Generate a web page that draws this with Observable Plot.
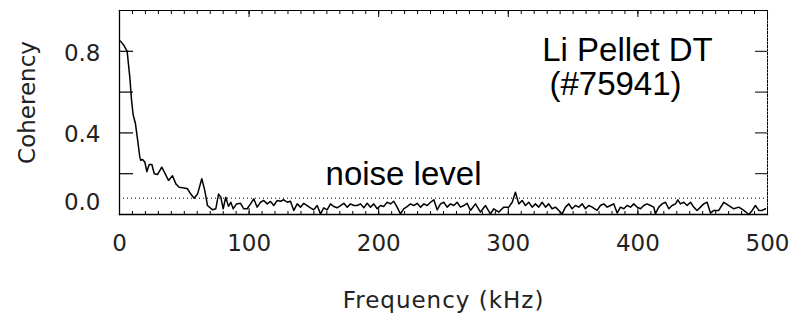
<!DOCTYPE html>
<html><head><meta charset="utf-8">
<script src="https://cdn.jsdelivr.net/npm/d3@7"></script>
<script src="https://cdn.jsdelivr.net/npm/@observablehq/plot@0.6"></script>
<style>html,body{margin:0;padding:0;background:#fff;}</style>
</head><body><div id="chart"></div>
<script>
// Frequency (kHz) of each sample
const freq = [
  0.8, 3.3, 5.9, 8.0, 9.3, 10.5, 12.3, 14.1, 15.7, 16.5, 17.8, 19.6, 21.1, 22.9, 25.0, 26.8, 29.3, 32.6, 35.2, 37.8,
  40.9, 43.5, 46.0, 49.9, 52.5, 55.0, 57.6, 60.2, 63.5, 65.8, 67.9, 71.8, 74.3, 76.4, 78.2, 80.0, 82.0, 84.1, 85.9, 87.7, 90.3,
  93.4, 95.9, 98.5, 101.1, 103.6, 106.2, 108.8, 111.3, 114.0, 116.5, 119.1, 121.7, 124.2, 126.8, 129.4, 131.9, 134.5, 137.1,
  139.7, 142.2, 144.8, 147.4, 149.9, 152.5, 155.1, 157.6, 160.2, 162.8, 165.3, 168.0, 170.5, 173.1, 175.7, 178.2, 180.8, 183.4,
  186.0, 188.5, 191.1, 193.7, 196.2, 198.8, 201.4, 203.9, 206.5, 209.1, 211.7, 214.2, 216.8, 219.3, 221.9, 224.5, 227.1,
  229.7, 232.3, 234.8, 237.4, 240.0, 242.5, 245.1, 247.7, 250.2, 252.8, 255.4, 258.0, 260.5, 263.1, 265.7, 268.2, 270.8,
  274.7, 278.5, 282.4, 286.2, 288.8, 292.7, 296.5, 300.4, 303.0, 305.5, 308.1, 310.7, 313.2, 315.8, 318.4, 320.9, 323.5,
  326.1, 328.7, 331.2, 333.8, 336.4, 339.0, 341.5, 344.1, 346.7, 349.2, 351.8, 354.4, 357.0, 359.5, 362.1, 364.7,
  368.5, 371.1, 373.7, 376.3, 378.8, 381.4, 384.0, 386.5, 389.1, 391.7, 394.3, 396.8, 399.4, 402.0, 404.5, 407.1, 409.7,
  412.3, 413.5, 416.1, 418.7, 421.3, 423.8, 426.4, 429.0, 430.8, 432.8, 435.4, 438.0, 440.6, 443.1, 445.7, 448.3, 450.8,
  453.4, 456.0, 458.6,
  462.4, 466.3, 470.2, 474.0, 477.9, 481.7, 485.6, 488.2, 490.7, 493.3, 495.9, 498.5
];
// Coherency at each frequency
const coherency = [
  0.85, 0.83, 0.80, 0.67, 0.56, 0.49, 0.445, 0.36, 0.28, 0.265, 0.27, 0.256, 0.21, 0.245, 0.245, 0.20, 0.196, 0.232, 0.20, 0.167,
  0.19, 0.15, 0.134, 0.13, 0.126, 0.10, 0.08, 0.10, 0.175, 0.118, 0.044, 0.023, 0.028, 0.10, 0.085, 0.028, 0.085, 0.04, 0.06, 0.028, 0.052,
  0.055, 0.028, 0.028, 0.052, 0.077, 0.036, 0.06, 0.069, 0.052, 0.064, 0.044, 0.069, 0.065, 0.072, 0.06, 0.065, 0.02, 0.052,
  0.036, 0.055, 0.044, 0.033, 0.023, 0.044, 0.003, 0.033, 0.023, 0.052, 0.039, 0.033, 0.044, 0.055, 0.036, 0.052, 0.044, 0.044,
  0.052, 0.033, 0.055, 0.036, 0.052, 0.028, 0.044, 0.039, 0.06, 0.052, 0.065, 0.036, 0.003, 0.028, 0.039, 0.052, 0.044,
  0.055, 0.036, 0.052, 0.044, 0.06, 0.072, 0.023, 0.052, 0.06, 0.036, 0.052, 0.044, 0.06, 0.036, 0.044, 0.055, 0.02,
  0.052, 0.012, 0.044, 0.003, 0.028, 0.012, 0.036, 0.036, 0.06, 0.109, 0.052, 0.069, 0.044, 0.06, 0.036, 0.052, 0.036,
  0.06, 0.036, 0.052, 0.028, 0.036, 0.02, 0.003, 0.036, 0.052, 0.028, 0.044, 0.036, 0.052, 0.028, 0.044, 0.036,
  0.02, 0.044, 0.052, 0.036, 0.044, 0.052, 0.007, 0.036, 0.028, 0.044, 0.036, 0.052, 0.036, 0.028, 0.044, 0.052, 0.044,
  0.036, 0.003, 0.036, 0.052, 0.06, 0.028, 0.044, 0.052, 0.072, 0.052, 0.06, 0.044, 0.06, 0.036, 0.02, 0.036, 0.052,
  0.06, 0.007, 0.02,
  0.02, 0.06, 0.044, 0.028, 0.036, 0.02, 0.0, 0.02, 0.044, 0.02, 0.02, 0.028
];
const noiseLevel = [0.08];
const xTickLabels = [0, 100, 200, 300, 400, 500];
const yTickLabels = [0.4, 0.8];
const yZeroLabel = [0];
const yTickMarks = [0.2, 0.4, 0.6, 0.8];
const xMinorTicks = d3.range(0, 501, 10);
const titleLine1 = ["Li Pellet DT"];
const titleLine2 = ["(#75941)"];
const noiseText = ["noise level"];
const xLabel = ["Frequency (kHz)"];
const yLabel = ["Coherency"];

const data = freq.map((f, i) => ({f, c: coherency[i]}));
const axisFont = "DejaVu Sans";
const frameH = 204, frameW = 648;

const chart = Plot.plot({
  width: 795, height: 324,
  marginLeft: 119, marginRight: 28, marginTop: 10, marginBottom: 110,
  x: {domain: [0, 500]},
  y: {domain: [0, 1]},
  style: {fontFamily: axisFont, background: "#fff", color: "#000"},
  marks: [
    Plot.frame({anchor: "left", stroke: "#000", strokeWidth: 1.3}),
    Plot.frame({anchor: "top", stroke: "#000", strokeWidth: 1.2}),
    Plot.frame({anchor: "bottom", stroke: "#000", strokeWidth: 1.3}),
    Plot.frame({anchor: "right", stroke: "#000", strokeWidth: 1, strokeDasharray: "2,1.5"}),
    Plot.tickX(xMinorTicks, {x: d => d, insetBottom: frameH - 4, stroke: "#000"}),
    Plot.tickX(xTickLabels, {x: d => d, insetBottom: frameH - 7, stroke: "#000"}),
    Plot.tickX(xMinorTicks, {x: d => d, insetTop: frameH - 3, stroke: "#000"}),
    Plot.tickX(xTickLabels, {x: d => d, insetTop: frameH - 6, stroke: "#000"}),
    Plot.tickY(yTickMarks, {y: d => d, insetRight: frameW - 14, stroke: "#000", strokeWidth: 1.2}),
    Plot.tickY(yTickMarks, {y: d => d, insetLeft: frameW - 12, stroke: "#000"}),
    Plot.ruleY(noiseLevel, {y: d => d, stroke: "#000", strokeWidth: 1, strokeDasharray: "1,3"}),
    Plot.line(data, {x: "f", y: "c", stroke: "#000", strokeWidth: 1.5}),
    Plot.axisX(xTickLabels, {anchor: "bottom", tickSize: 0, tickPadding: 20, fontSize: 23, fontFamily: axisFont, fill: "#222", label: null}),
    Plot.axisY(yTickLabels, {anchor: "left", tickSize: 0, tickPadding: 19, dy: 2, fontSize: 23, fontFamily: axisFont, fill: "#222", tickFormat: d3.format(".1f"), label: null}),
    Plot.axisY(yZeroLabel, {anchor: "left", tickSize: 0, tickPadding: 19, dy: -12, fontSize: 23, fontFamily: axisFont, fill: "#222", tickFormat: d3.format(".1f"), label: null}),
    Plot.text(xLabel, {frameAnchor: "bottom", textAnchor: "middle", dy: 86, fontSize: 23, fontFamily: axisFont, fill: "#222", lineAnchor: "middle"}),
    Plot.text(yLabel, {frameAnchor: "left", textAnchor: "middle", rotate: -90, dx: -92, dy: -10, fontSize: 23, fontFamily: axisFont, fill: "#222", lineAnchor: "middle"}),
    Plot.text(titleLine1, {frameAnchor: "top-right", textAnchor: "middle", lineAnchor: "middle", dx: -140, dy: 40, fontSize: 33, fontFamily: "Liberation Sans", fill: "#000"}),
    Plot.text(titleLine2, {frameAnchor: "top-right", textAnchor: "middle", lineAnchor: "middle", dx: -152, dy: 74, fontSize: 33, fontFamily: "Liberation Sans", fill: "#000"}),
    Plot.text(noiseText, {frameAnchor: "top-left", textAnchor: "middle", lineAnchor: "middle", dx: 284, dy: 164, fontSize: 33, fontFamily: "Liberation Sans", fill: "#000"})
  ]
});
// a little letter spacing for the axis title, as in the original figure's stroke font
d3.select(chart).selectAll("text").filter(function() { return this.textContent === xLabel[0]; })
  .style("letter-spacing", "1px");
document.getElementById("chart").appendChild(chart);
</script></body></html>
